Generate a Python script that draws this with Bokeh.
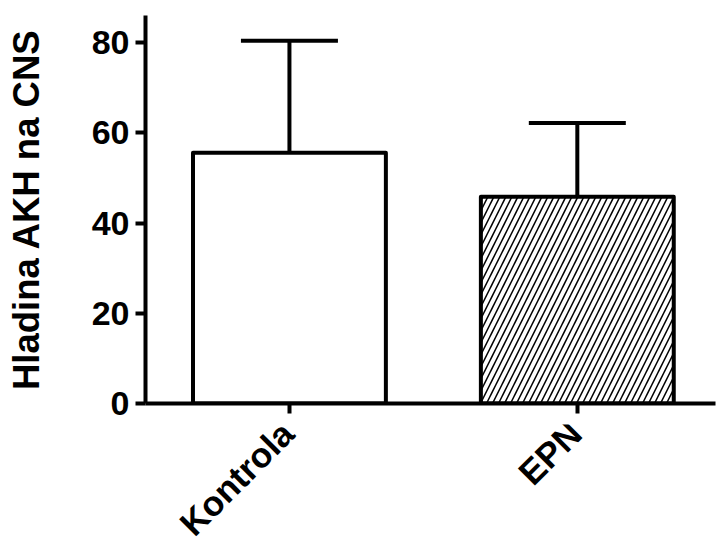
from bokeh.plotting import figure
from bokeh.models import ColumnDataSource, Range1d, FixedTicker, Whisker, TeeHead
from bokeh.layouts import column
from bokeh.core.properties import value
from bokeh.embed import file_html
from bokeh.resources import INLINE
import math

categories = ["Kontrola", "EPN"]
means = [55.6, 45.8]
sd = [24.8, 16.4]
y_ticks = [0, 20, 40, 60, 80]

xpos = [i + 0.5 for i in range(len(categories))]
upper = [m + s for m, s in zip(means, sd)]
hatches = [" ", "/"]

src = ColumnDataSource(dict(x=xpos, top=means, upper=upper, lower=means,
                            hatch=hatches, name=categories))

FONT = "Liberation Sans"

p = figure(width=718, height=424, output_backend="svg", toolbar_location=None,
           x_range=Range1d(0, 1.98), y_range=Range1d(0, 86),
           min_border_left=145, min_border_right=3, min_border_top=15, min_border_bottom=21)
p.outline_line_color = None
p.xgrid.visible = False
p.ygrid.visible = False
p.background_fill_color = "white"
p.border_fill_color = "white"

p.vbar(x="x", top="top", width=0.67, bottom=0, source=src, fill_color="white",
       line_color="black", line_width=4, line_join="round",
       hatch_pattern="hatch", hatch_color="black", hatch_scale=12, hatch_weight=1.5)

w = Whisker(base="x", upper="upper", lower="lower", source=src, dimension="height",
            line_color="black", line_width=4,
            upper_head=TeeHead(size=97, line_color="black", line_width=4), lower_head=None)
p.add_layout(w)

# y axis
ya = p.yaxis[0]
ya.ticker = FixedTicker(ticks=y_ticks)
ya.axis_label = "Hladina AKH na CNS"
ya.axis_label_text_font = FONT
ya.axis_label_text_font_style = "bold"
ya.axis_label_text_font_size = "36.5px"
ya.axis_label_text_color = "black"
ya.axis_label_standoff = 42
ya.major_label_text_font = FONT
ya.major_label_text_font_style = "bold"
ya.major_label_text_font_size = "34px"
ya.major_label_text_color = "black"
ya.major_label_standoff = 6
ya.axis_line_width = 4
ya.major_tick_line_width = 4
ya.major_tick_out = 10
ya.major_tick_in = 0
ya.minor_tick_line_color = None

# x axis: line and ticks only; category names drawn in the strip below
xa = p.xaxis[0]
xa.ticker = FixedTicker(ticks=xpos)
xa.major_label_overrides = {x: "" for x in xpos}
xa.major_label_text_font_size = "1px"
xa.major_label_standoff = 0
xa.axis_line_width = 4
xa.major_tick_line_width = 4
xa.major_tick_out = 10
xa.major_tick_in = 0
xa.minor_tick_line_color = None

# strip below the plot sharing the x scale, for the rotated category names
p2 = figure(width=718, height=122, output_backend="svg", toolbar_location=None,
            x_range=p.x_range, y_range=Range1d(-122, 0),
            x_axis_type=None, y_axis_type=None,
            min_border_left=145, min_border_right=3, min_border_top=0, min_border_bottom=0)
p2.outline_line_color = None
p2.xgrid.visible = False
p2.ygrid.visible = False
p2.background_fill_color = "white"
p2.border_fill_color = "white"
p2.text(x="x", y=-3, text="name", source=src, angle=math.pi / 4, x_offset=-2,
        text_align="right", text_baseline="middle",
        text_font=value(FONT), text_font_style="bold", text_font_size="35px",
        text_color="black")

open("out.html", "w").write(file_html(column(p, p2), INLINE))
